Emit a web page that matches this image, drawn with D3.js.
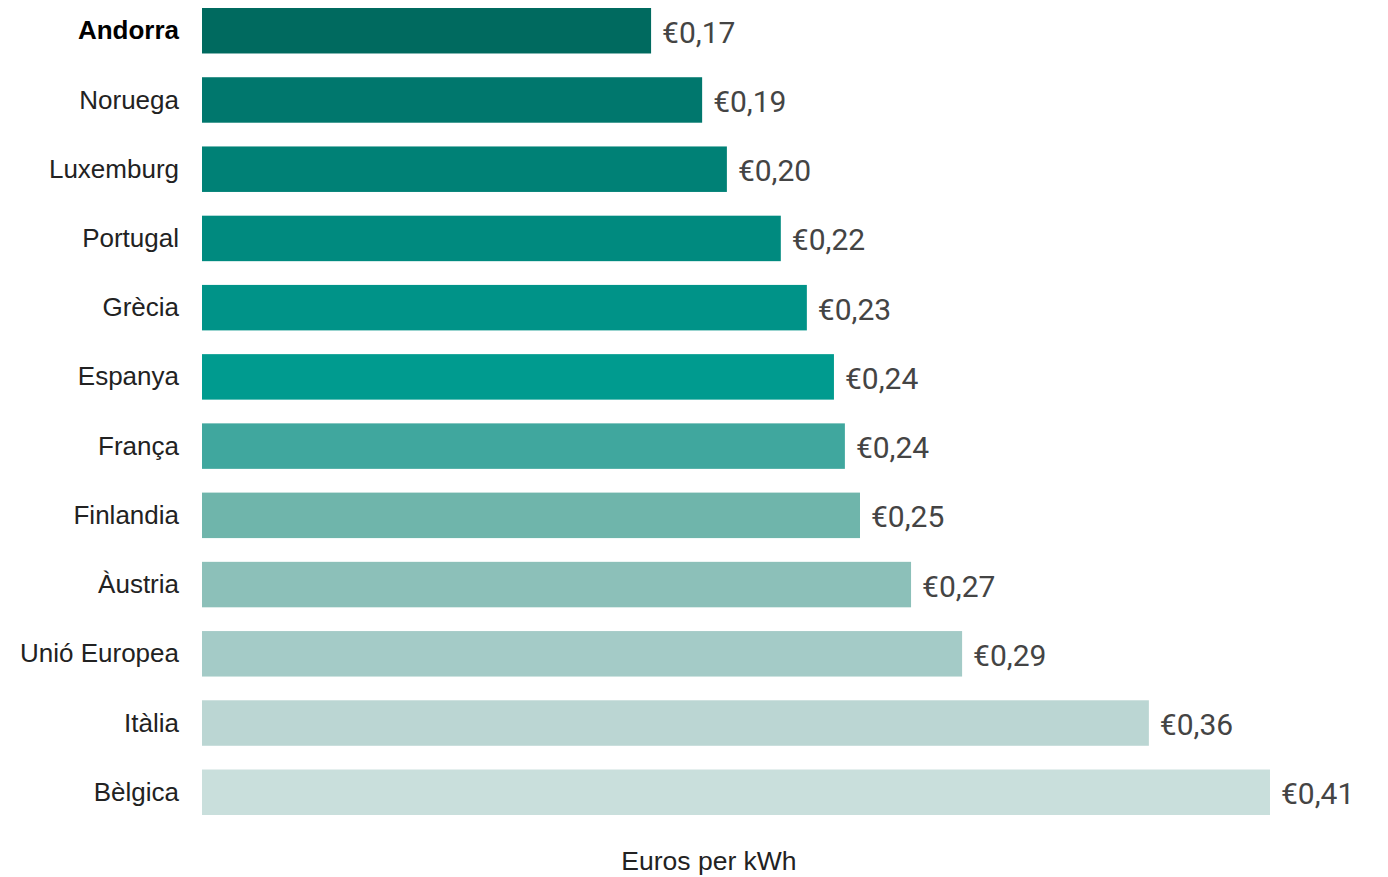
<!DOCTYPE html>
<html>
<head>
<meta charset="utf-8">
<script src="https://cdn.jsdelivr.net/npm/d3@7"></script>
<style>
  html, body { margin: 0; padding: 0; background: #fff; }
  svg { display: block; }
</style>
</head>
<body>
<svg id="chart" width="1388" height="877"></svg>
<script>
const countries = ["Andorra", "Noruega", "Luxemburg", "Portugal", "Grècia", "Espanya", "França", "Finlandia", "Àustria", "Unió Europea", "Itàlia", "Bèlgica"];
const values = [0.1724, 0.192, 0.2015, 0.2222, 0.2322, 0.2426, 0.2468, 0.2526, 0.2722, 0.2918, 0.3635, 0.41];
const valueLabels = ["€0,17", "€0,19", "€0,20", "€0,22", "€0,23", "€0,24", "€0,24", "€0,25", "€0,27", "€0,29", "€0,36", "€0,41"];
const colors = ["#006a5f", "#00776d", "#008176", "#008a7f", "#009388", "#009b8f", "#40a79e", "#6fb5ab", "#8cc0b9", "#a4cbc7", "#bbd6d3", "#c9dfdc"];
const highlight = "Andorra";
const axisTitle = "Euros per kWh";

const data = countries.map((c, i) => ({ country: c, value: values[i], label: valueLabels[i], color: colors[i] }));

const svg = d3.select("#chart");

const x = d3.scaleLinear().domain([0, 0.41]).range([202, 1270]);
const y = d3.scaleBand().domain(countries).range([8, 815]).paddingInner(0.343).paddingOuter(0);

svg.append("g").selectAll("rect")
  .data(data).join("rect")
  .attr("x", x(0))
  .attr("y", d => y(d.country))
  .attr("width", d => x(d.value) - x(0))
  .attr("height", y.bandwidth())
  .attr("fill", d => d.color);

svg.append("g").selectAll("text")
  .data(data).join("text")
  .attr("x", 179)
  .attr("y", d => y(d.country) + y.bandwidth() / 2)
  .attr("dy", "0.33em")
  .attr("text-anchor", "end")
  .attr("font-family", "'Liberation Sans', Arial, sans-serif")
  .attr("font-size", 26)
  .attr("font-weight", d => d.country === highlight ? "bold" : "normal")
  .attr("fill", d => d.country === highlight ? "#000" : "#222")
  .text(d => d.country);

svg.append("g").selectAll("text")
  .data(data).join("text")
  .attr("x", d => x(d.value) + 11)
  .attr("y", d => y(d.country) + y.bandwidth() / 2)
  .attr("dy", "0.4em")
  .attr("font-family", "Roboto, sans-serif")
  .attr("font-size", 30)
  .attr("fill", "#444")
  .text(d => d.label);

svg.append("text")
  .attr("x", 709)
  .attr("y", 870)
  .attr("text-anchor", "middle")
  .attr("font-family", "'Liberation Sans', Arial, sans-serif")
  .attr("font-size", 26.5)
  .attr("fill", "#222")
  .text(axisTitle);
</script>
</body>
</html>
